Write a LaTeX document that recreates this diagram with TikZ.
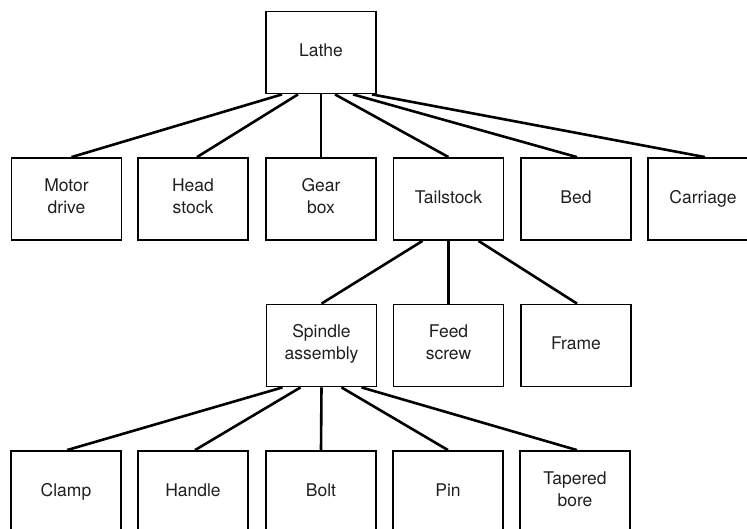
\documentclass[tikz,border=0pt]{standalone}
\usepackage{fontspec}
\setmainfont{TeX Gyre Heros}
\begin{document}
\begin{tikzpicture}[x=1pt,y=-1pt,
  part/.style={draw, line width=1.8pt, minimum width=110pt, minimum height=82pt,
    inner sep=0pt, align=center, text=black!88,
    font=\fontsize{17.5}{22}\selectfont,
    execute at begin node=\strut, execute at end node=\strut},
  link/.style={line width=2.6pt}]
\useasboundingbox (0,0) rectangle (747,528);
\clip (0,0) rectangle (747,528);

% top level
\node[part] (lathe) at (321,52.5) {Lathe};

% main assemblies
\node[part] (motor) at (66.5,199) {Motor\\drive};
\node[part] (head)  at (193,199)  {Head\\stock};
\node[part] (gear)  at (321,199)  {Gear\\box};
\node[part] (tail)  at (448.5,199) {Tailstock};
\node[part] (bed)   at (576,199)  {Bed};
\node[part] (carr)  at (703,199)  {Carriage};

% tailstock parts
\node[part] (spindle) at (321.5,345.5) {Spindle\\assembly};
\node[part] (feed)    at (448.5,345.5) {Feed\\screw};
\node[part] (frame)   at (576,345.5)   {Frame};

% spindle assembly parts
\node[part] (clamp)  at (66,492)  {Clamp};
\node[part] (handle) at (193,492) {Handle};
\node[part] (bolt)   at (321,492) {Bolt};
\node[part] (pin)    at (448,492) {Pin};
\node[part] (taper)  at (575,492) {Tapered\\bore};

% lathe connectors
\draw[link] ([xshift=-39pt]lathe.south) -- ([xshift=5pt]motor.north);
\draw[link] ([xshift=-23pt]lathe.south) -- ([xshift=4pt]head.north);
\draw[link] (lathe.south) -- (gear.north);
\draw[link] ([xshift=14pt]lathe.south) -- (tail.north);
\draw[link] ([xshift=32pt]lathe.south) -- ([xshift=1pt]bed.north);
\draw[link] ([xshift=51pt]lathe.south) -- ([xshift=2pt]carr.north);

% tailstock connectors
\draw[link] ([xshift=-26pt]tail.south) -- (spindle.north);
\draw[link] (tail.south) -- (feed.north);
\draw[link] ([xshift=30pt]tail.south) -- ([xshift=1pt]frame.north);

% spindle assembly connectors
\draw[link] ([xshift=-39pt]spindle.south) -- ([xshift=1pt]clamp.north);
\draw[link] ([xshift=-21pt]spindle.south) -- ([xshift=2pt]handle.north);
\draw[link] (spindle.south) -- (bolt.north);
\draw[link] ([xshift=20pt]spindle.south) -- (pin.north);
\draw[link] ([xshift=40pt]spindle.south) -- ([xshift=2pt]taper.north);
\end{tikzpicture}
\end{document}
